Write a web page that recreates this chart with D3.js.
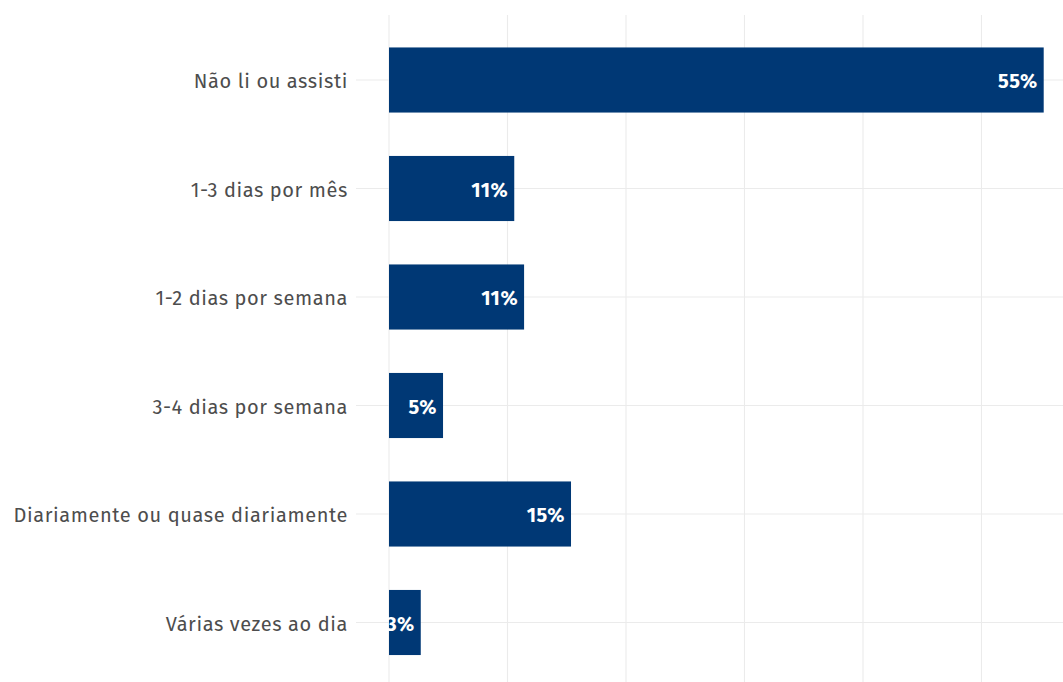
<!DOCTYPE html>
<html lang="en">
<head>
  <meta charset="utf-8">
  <title></title>
  <script src="https://d3js.org/d3.v7.min.js"></script>
</head>
<style>
body { margin: 0; background: white; }
.cat-label {
  font-family: "Fira Sans", "Noto Sans", sans-serif;
  font-size: 20px;
  fill: #4d4d4d;
  letter-spacing: 0.6px;
}
.val-label {
  font-family: "Fira Sans", "Noto Sans", sans-serif;
  font-size: 20px;
  font-weight: bold;
  fill: white;
  letter-spacing: 0.5px;
}
.grid {
  stroke: #ebebeb;
  stroke-width: 1.1px;
}
</style>
<body>
  <div class="chart"></div>

  <script type="text/javascript">
  var categories = ["Não li ou assisti", "1-3 dias por mês", "1-2 dias por semana",
    "3-4 dias por semana", "Diariamente ou quase diariamente", "Várias vezes ao dia"];
  var values = [55.25, 10.57, 11.4, 4.56, 15.36, 2.68];
  var valueLabels = ["55%", "11%", "11%", "5%", "15%", "3%"];
  var xTicks = [0, 10, 20, 30, 40, 50];

  var width = 1063;
  var height = 682;
  var panel = {left: 356, top: 15, right: 1063, bottom: 682};

  var svg = d3.select(".chart")
    .append("svg")
    .attr("width", width)
    .attr("height", height);

  var x = d3.scaleLinear().domain([0, 55.25]).range([389, 1043.7]);
  var y = d3.scaleBand()
    .domain(categories)
    .range([25.75, 676.75])
    .paddingInner(0.4)
    .paddingOuter(0.2);

  // grid
  svg.selectAll(".vgrid")
    .data(xTicks)
    .enter()
    .append("line")
    .attr("class", "grid")
    .attr("x1", function(d){ return x(d); })
    .attr("x2", function(d){ return x(d); })
    .attr("y1", panel.top)
    .attr("y2", panel.bottom);

  svg.selectAll(".hgrid")
    .data(categories)
    .enter()
    .append("line")
    .attr("class", "grid")
    .attr("x1", panel.left)
    .attr("x2", panel.right)
    .attr("y1", function(d){ return y(d) + y.bandwidth()/2; })
    .attr("y2", function(d){ return y(d) + y.bandwidth()/2; });

  // bars
  svg.selectAll(".bar")
    .data(categories)
    .enter()
    .append("rect")
    .attr("class", "bar")
    .attr("fill", "#003875")
    .attr("x", x(0))
    .attr("y", function(d){ return y(d); })
    .attr("width", function(d, i){ return x(values[i]) - x(0); })
    .attr("height", y.bandwidth());

  // value labels
  svg.selectAll(".val-label")
    .data(categories)
    .enter()
    .append("text")
    .attr("class", "val-label")
    .attr("text-anchor", "end")
    .attr("dominant-baseline", "central")
    .attr("x", function(d, i){ return x(values[i]) - 6; })
    .attr("y", function(d){ return y(d) + y.bandwidth()/2 + 1; })
    .text(function(d, i){ return valueLabels[i]; });

  // category labels
  svg.selectAll(".cat-label")
    .data(categories)
    .enter()
    .append("text")
    .attr("class", "cat-label")
    .attr("text-anchor", "end")
    .attr("dominant-baseline", "central")
    .attr("x", 348)
    .attr("y", function(d){ return y(d) + y.bandwidth()/2 + 1; })
    .text(function(d){ return d; });
  </script>
</body>
</html>
